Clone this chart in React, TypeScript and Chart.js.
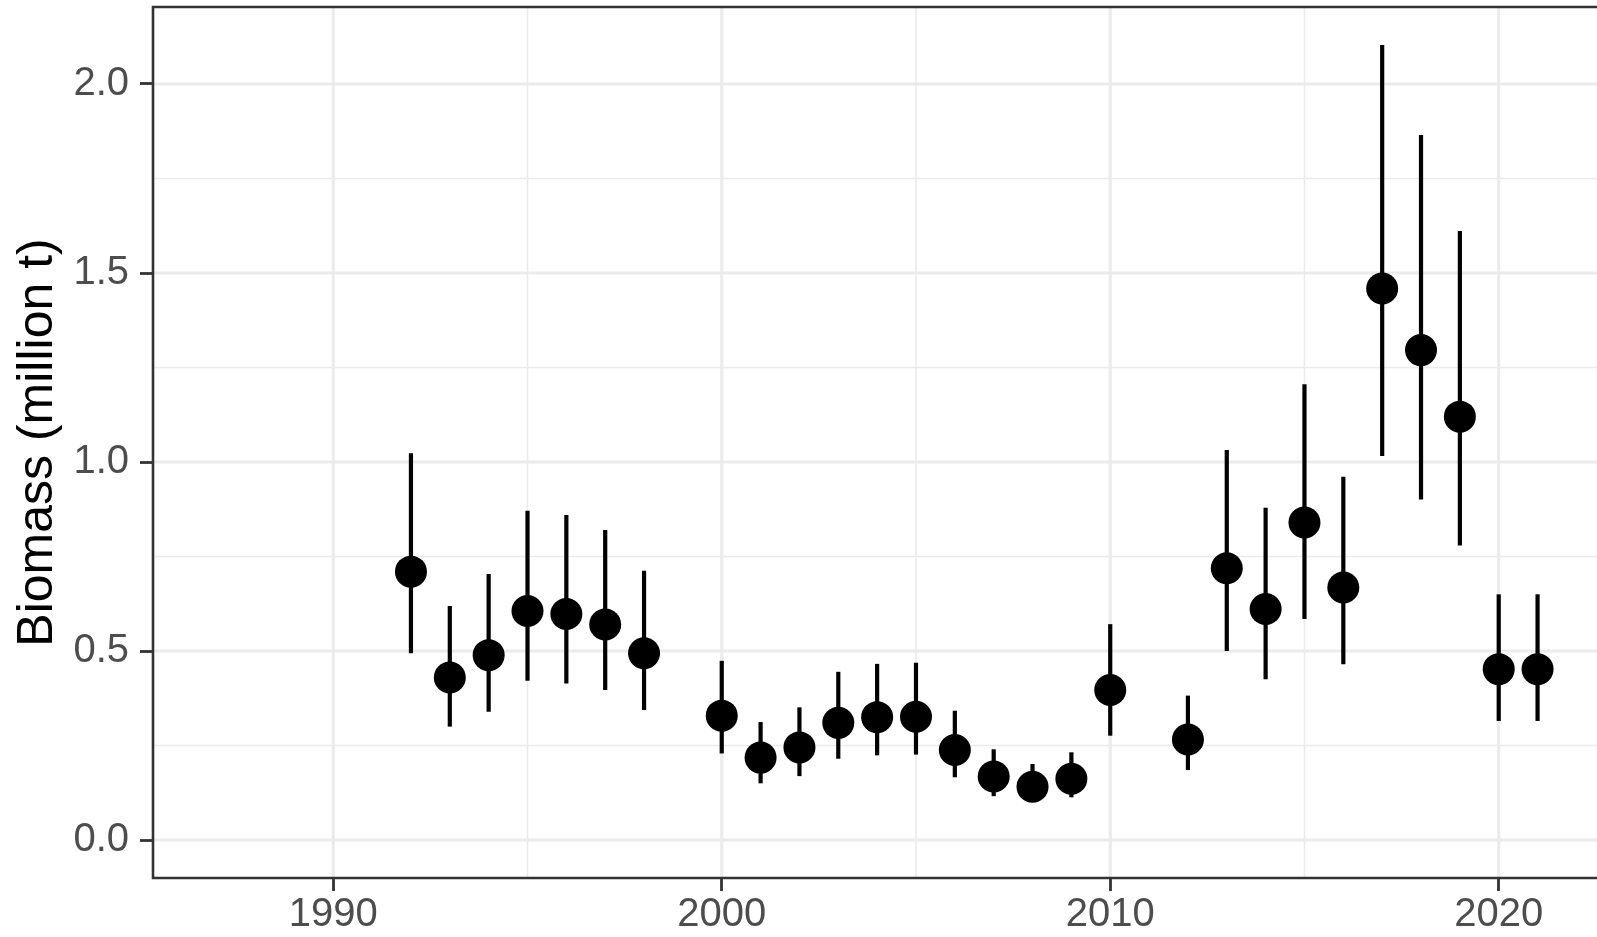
import React, { useEffect, useRef } from "react";
import { Chart, registerables } from "chart.js";

Chart.register(...registerables);

// Survey biomass estimates with lower/upper interval bounds (million t)
const years = [
  1992, 1993, 1994, 1995, 1996, 1997, 1998, 2000, 2001, 2002, 2003, 2004, 2005, 2006,
  2007, 2008, 2009, 2010, 2012, 2013, 2014, 2015, 2016, 2017, 2018, 2019, 2020, 2021,
];
const biomass = [
  0.71, 0.43, 0.489, 0.606, 0.598, 0.57, 0.494, 0.329, 0.218, 0.245, 0.31, 0.325, 0.326, 0.238,
  0.168, 0.141, 0.162, 0.397, 0.266, 0.719, 0.611, 0.84, 0.668, 1.459, 1.296, 1.12, 0.452, 0.452,
];
const lower = [
  0.494, 0.3, 0.339, 0.421, 0.414, 0.397, 0.344, 0.229, 0.15, 0.169, 0.215, 0.224, 0.226, 0.166,
  0.116, 0.115, 0.113, 0.276, 0.185, 0.5, 0.425, 0.585, 0.465, 1.016, 0.901, 0.779, 0.315, 0.315,
];
const upper = [
  1.023, 0.619, 0.704, 0.871, 0.86, 0.82, 0.712, 0.474, 0.312, 0.351, 0.445, 0.466, 0.469, 0.342,
  0.24, 0.201, 0.232, 0.571, 0.382, 1.032, 0.879, 1.206, 0.961, 2.103, 1.865, 1.611, 0.65, 0.65,
];

const xTicks = [1990, 2000, 2010, 2020];
const xMinorGrid = [1995, 2005, 2015];
const yTicks = [0, 0.5, 1.0, 1.5, 2.0];
const yMinorGrid = [0.25, 0.75, 1.25, 1.75];

const X_MIN = 1985.36;
const X_MAX = 2022.53;
const Y_MIN = -0.1005;
const Y_MAX = 2.2037;

const FONT = "'Liberation Sans', Arial, Helvetica, sans-serif";

// Keep the panel edges where the layout puts them, without label overhang padding
const noPadding = (s: any) => {
  s.paddingTop = 0;
  s.paddingBottom = 0;
  s.paddingLeft = 0;
  s.paddingRight = 0;
};

// Panel grid (major + minor) and interval bars drawn under the points, theme_bw style
const gridPlugin = {
  id: "panelGrid",
  beforeDatasetsDraw(chart: any) {
    const { ctx, chartArea: a, scales } = chart;
    const xs = scales.x;
    const ys = scales.y;
    ctx.save();
    ctx.beginPath();
    ctx.rect(a.left, a.top, a.right - a.left, a.bottom - a.top);
    ctx.clip();
    ctx.strokeStyle = "#EBEBEB";
    const line = (x1: number, y1: number, x2: number, y2: number, w: number) => {
      ctx.lineWidth = w;
      ctx.beginPath();
      ctx.moveTo(x1, y1);
      ctx.lineTo(x2, y2);
      ctx.stroke();
    };
    yMinorGrid.forEach((v) => {
      const y = ys.getPixelForValue(v);
      line(a.left, y, a.right, y, 1.5);
    });
    xMinorGrid.forEach((v) => {
      const x = xs.getPixelForValue(v);
      line(x, a.top, x, a.bottom, 1.5);
    });
    yTicks.forEach((v) => {
      const y = ys.getPixelForValue(v);
      line(a.left, y, a.right, y, 3);
    });
    xTicks.forEach((v) => {
      const x = xs.getPixelForValue(v);
      line(x, a.top, x, a.bottom, 3);
    });

    ctx.strokeStyle = "#000000";
    ctx.lineCap = "butt";
    years.forEach((yr, i) => {
      const x = xs.getPixelForValue(yr);
      line(x, ys.getPixelForValue(upper[i]), x, ys.getPixelForValue(lower[i]), 4.2);
    });
    ctx.restore();
  },
  afterDatasetsDraw(chart: any) {
    const { ctx, chartArea: a } = chart;
    ctx.save();
    ctx.strokeStyle = "#333333";
    ctx.lineWidth = 2.6;
    ctx.beginPath();
    ctx.moveTo(a.right + 2, a.top);
    ctx.lineTo(a.left, a.top);
    ctx.lineTo(a.left, a.bottom);
    ctx.lineTo(a.right + 2, a.bottom);
    ctx.stroke();
    ctx.restore();
  },
};

export default function App() {
  const ref = useRef<HTMLCanvasElement | null>(null);

  useEffect(() => {
    if (!ref.current) return;
    const chart = new Chart(ref.current, {
      type: "scatter",
      data: {
        datasets: [
          {
            data: years.map((yr, i) => ({ x: yr, y: biomass[i] })),
            backgroundColor: "#000000",
            borderColor: "#000000",
            borderWidth: 0,
            pointRadius: 16,
            pointHoverRadius: 16,
          },
        ],
      },
      options: {
        responsive: false,
        animation: false,
        events: [],
        layout: { autoPadding: false, padding: { top: 7, right: 0, bottom: 0, left: 0 } },
        plugins: {
          legend: { display: false },
          tooltip: { enabled: false },
          title: { display: false },
        },
        scales: {
          x: {
            type: "linear",
            min: X_MIN,
            max: X_MAX,
            afterBuildTicks: (s: any) => {
              s.ticks = xTicks.map((v) => ({ value: v }));
            },
            afterFit: (s: any) => {
              s.height = 59;
              noPadding(s);
            },
            border: { display: false },
            grid: {
              drawOnChartArea: false,
              drawTicks: true,
              tickLength: 13,
              tickColor: "#333333",
              tickWidth: 2.8,
            },
            ticks: {
              autoSkip: false,
              maxRotation: 0,
              padding: 0,
              color: "#4D4D4D",
              font: { family: FONT, size: 40 },
              callback: (v: any) => String(v),
            },
          },
          y: {
            type: "linear",
            min: Y_MIN,
            max: Y_MAX,
            afterBuildTicks: (s: any) => {
              s.ticks = yTicks.map((v) => ({ value: v }));
            },
            afterFit: (s: any) => {
              s.width = 153;
              noPadding(s);
            },
            border: { display: false },
            grid: {
              drawOnChartArea: false,
              drawTicks: true,
              tickLength: 13,
              tickColor: "#333333",
              tickWidth: 2.8,
            },
            ticks: {
              autoSkip: false,
              padding: 11,
              color: "#4D4D4D",
              font: { family: FONT, size: 40 },
              callback: (v: any) => Number(v).toFixed(1),
            },
            title: {
              display: true,
              text: "Biomass (million t)",
              color: "#000000",
              font: { family: FONT, size: 50 },
              padding: { top: 8, bottom: 0 },
            },
          },
        },
      },
      plugins: [gridPlugin],
    });
    return () => chart.destroy();
  }, []);

  return (
    <canvas
      ref={ref}
      width={1597}
      height={937}
      style={{ position: "absolute", left: 0, top: 0, width: 1597, height: 937, background: "#ffffff" }}
    />
  );
}
